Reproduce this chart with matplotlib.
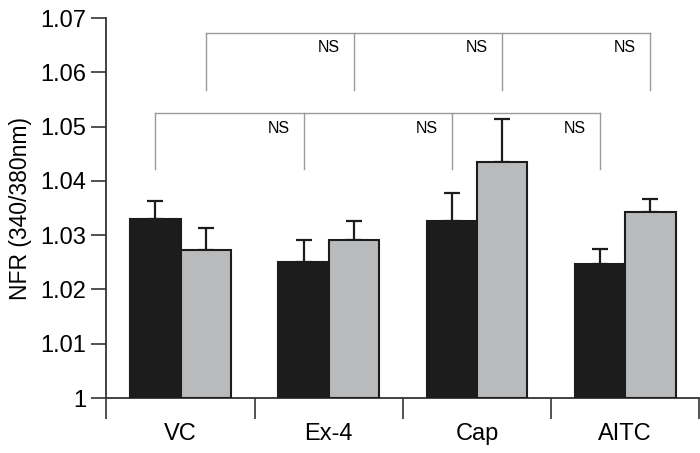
import matplotlib
matplotlib.use("Agg")
import matplotlib.pyplot as plt
import numpy as np

plt.rcParams['font.family'] = ['Liberation Sans', 'DejaVu Sans']

categories = ["VC", "Ex-4", "Cap", "AITC"]
black_vals = [1.0330, 1.0250, 1.0326, 1.0247]
black_err = [0.0033, 0.0041, 0.0052, 0.0027]
gray_vals = [1.0272, 1.0291, 1.0435, 1.0343]
gray_err = [0.0041, 0.0035, 0.0079, 0.0024]
yticks = [1.00, 1.01, 1.02, 1.03, 1.04, 1.05, 1.06, 1.07]
ytick_labels = ["1", "1.01", "1.02", "1.03", "1.04", "1.05", "1.06", "1.07"]
ns_label = "NS"
lower_bracket = [1.0525, 1.0422]
upper_bracket = [1.0673, 1.0567]
lower_ns_y = 1.0497
upper_ns_y = 1.0645

fig = plt.figure(figsize=(7.0, 4.53), dpi=100)
ax = fig.add_axes([0.152, 0.1214, 0.847, 0.8386])

x = np.arange(len(categories))
w = 0.34
bc = x - w / 2
gc = x + w / 2
base = 1.0
ax.bar(bc, np.array(black_vals) - base, w, bottom=base, color='#1c1c1c',
       edgecolor='#1c1c1c', linewidth=1.5, zorder=3)
ax.bar(gc, np.array(gray_vals) - base, w, bottom=base, color='#b9babc',
       edgecolor='#1c1c1c', linewidth=1.5, zorder=3)
ax.errorbar(bc, black_vals, yerr=[np.zeros(4), black_err], fmt='none',
            ecolor='#1c1c1c', elinewidth=1.6, capsize=6, capthick=1.6, zorder=2)
ax.errorbar(gc, gray_vals, yerr=[np.zeros(4), gray_err], fmt='none',
            ecolor='#1c1c1c', elinewidth=1.6, capsize=6, capthick=1.6, zorder=2)

bcol = '#9a9a9a'
# lower bracket: black bars
ax.plot([bc[0], bc[-1]], [lower_bracket[0]] * 2, color=bcol, lw=1.0)
for xi in bc:
    ax.plot([xi, xi], lower_bracket, color=bcol, lw=1.0)
for xi in bc[1:]:
    ax.text(xi - 0.17, lower_ns_y, ns_label, ha='center', va='center', fontsize=11.5)
# upper bracket: gray bars
ax.plot([gc[0], gc[-1]], [upper_bracket[0]] * 2, color=bcol, lw=1.0)
for xi in gc:
    ax.plot([xi, xi], upper_bracket, color=bcol, lw=1.0)
for xi in x[1:]:
    ax.text(xi, upper_ns_y, ns_label, ha='center', va='center', fontsize=11.5)

ax.set_xlim(-0.5, 3.5)
ax.set_ylim(1.0, 1.07)
ax.set_yticks(yticks)
ax.set_yticklabels(ytick_labels)
ax.set_xticks(np.arange(-0.5, 4.0, 1.0))
ax.set_xticklabels([])
ax.set_xticks(x, minor=True)
ax.set_xticklabels(categories, minor=True)
ax.tick_params(axis='x', which='major', direction='out', length=15, width=1.2, color='#333333')
ax.tick_params(axis='x', which='minor', length=0, labelsize=17, pad=18)
ax.tick_params(axis='y', direction='out', length=11, width=1.2, labelsize=17, color='#333333')
for s in ['top', 'right']:
    ax.spines[s].set_visible(False)
for s in ['left', 'bottom']:
    ax.spines[s].set_linewidth(1.3)
    ax.spines[s].set_color('#333333')
ax.set_ylabel("NFR (340/380nm)", fontsize=16.5, labelpad=6)

fig.savefig("out.png", dpi=100)
